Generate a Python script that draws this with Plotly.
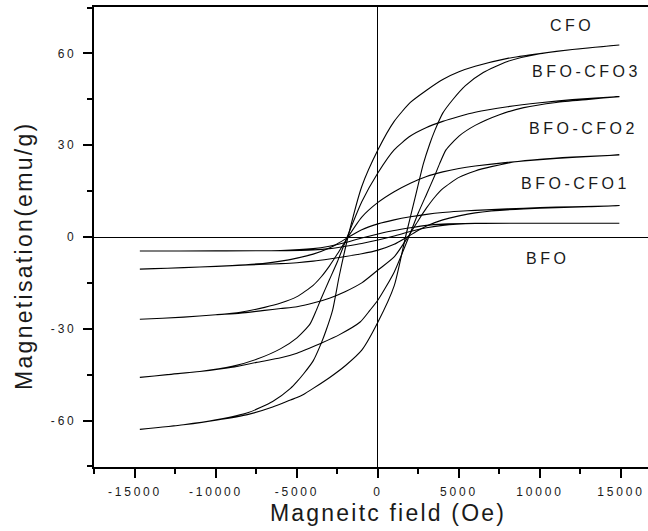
import plotly.graph_objects as go

# ---------------- data ----------------
# CFO
H_cfo_up = [14900, 12000, 10000, 8000, 6000, 5000, 4000, 3000, 2000, 1000, 0, -1000, -1850, -2400,
            -2800, -3200, -3500, -4000, -4600, -5000, -5400, -6500, -8000, -10000, -12000, -14700]
M_cfo_up = [62.8, 61.3, 60.0, 58.4, 55.8, 54.0, 51.5, 48.0, 44.0, 37.8, 28.5, 16.5, 0.0, -13.0,
            -23.9, -30.5, -34.7, -40.5, -44.8, -47.3, -49.5, -53.8, -57.4, -59.8, -61.4, -62.9]
H_cfo_dn = [-14700, -12000, -10000, -8000, -6500, -5400, -5000, -4600, -4000, -3000, -2000, -1000, 0,
            1000, 1700, 2300, 2800, 3200, 3500, 4000, 4600, 5400, 6500, 8000, 10000, 12000, 14900]
M_cfo_dn = [-62.9, -61.4, -59.9, -58.0, -55.6, -53.3, -52.5, -51.5, -49.5, -46.0, -42.0, -37.0, -27.8,
            -16.0, 0.0, 13.0, 23.9, 30.5, 34.7, 40.5, 44.8, 49.5, 53.8, 57.4, 59.9, 61.3, 62.8]

# BFO-CFO3
H_c3_up = [14900, 12000, 10000, 8000, 6000, 5000, 4000, 3000, 2000, 1000, 0, -1000, -1900, -2500,
           -3000, -3500, -3800, -4200, -5000, -6000, -7500, -9000, -11000, -13000, -14700]
M_c3_up = [45.9, 44.9, 43.9, 42.6, 40.8, 39.4, 37.8, 35.8, 33.0, 28.5, 21.0, 11.5, 0.0, -8.0,
           -14.0, -20.0, -23.9, -28.5, -33.0, -36.5, -40.0, -42.3, -44.0, -45.0, -45.9]
H_c3_dn = [-14700, -13000, -11000, -9000, -7500, -6000, -5000, -4200, -3500, -2400, -1100, -500, 0,
           1000, 1900, 2500, 3000, 3500, 3800, 4200, 5000, 6000, 7500, 9000, 11000, 13000, 14900]
M_c3_dn = [-45.9, -45.0, -44.0, -42.6, -41.0, -39.5, -38.0, -36.3, -34.7, -32.0, -27.8, -24.0, -20.6,
           -11.5, 0.0, 8.0, 14.0, 20.0, 23.9, 28.5, 33.0, 36.5, 40.0, 42.3, 44.0, 45.0, 45.9]

# BFO-CFO2
H_c2_up = [14900, 12000, 10000, 8000, 6000, 5000, 4000, 3000, 2000, 1000, 0, -1000, -1850, -2500,
           -3000, -3500, -4000, -5000, -6000, -7000, -8500, -10000, -12000, -14700]
M_c2_up = [26.8, 26.0, 25.3, 24.4, 23.2, 22.4, 21.3, 19.8, 17.6, 14.8, 11.3, 6.5, 0.0, -5.5,
           -9.5, -13.0, -15.8, -19.5, -21.6, -23.0, -24.6, -25.4, -26.2, -26.9]
H_c2_dn = [-14700, -12000, -10000, -8500, -7000, -6000, -5000, -4000, -3000, -2000, -1000, 0, 1000,
           1850, 2500, 3000, 3500, 4000, 5000, 6000, 7000, 8500, 10000, 12000, 14900]
M_c2_dn = [-26.9, -26.2, -25.4, -24.9, -24.0, -23.4, -22.8, -21.6, -20.0, -17.8, -15.0, -10.8, -6.5,
           0.0, 5.5, 9.5, 13.0, 15.8, 19.5, 21.6, 23.0, 24.6, 25.4, 26.1, 26.8]

# BFO-CFO1
H_c1_up = [14900, 12000, 10000, 8000, 6000, 5000, 4000, 3000, 2000, 1000, 0, -1000, -1800, -2500,
           -3000, -4000, -5000, -6000, -7000, -9000, -11000, -13000, -14700]
M_c1_up = [10.2, 9.9, 9.6, 9.2, 8.7, 8.4, 8.0, 7.4, 6.6, 5.6, 4.3, 2.4, 0.0, -2.2,
           -3.6, -5.6, -6.9, -7.9, -8.6, -9.3, -9.8, -10.2, -10.5]
H_c1_dn = [-14700, -13000, -11000, -9000, -7000, -6000, -5000, -4000, -3000, -2000, -1000, 0, 1000,
           1800, 2500, 3000, 4000, 5000, 6000, 7000, 9000, 11000, 13000, 14900]
M_c1_dn = [-10.5, -10.2, -9.8, -9.4, -8.9, -8.7, -8.4, -7.9, -7.2, -6.4, -5.5, -4.3, -2.4,
           0.0, 2.2, 3.6, 5.6, 6.9, 7.9, 8.5, 9.2, 9.6, 9.9, 10.2]

# BFO
H_bfo_up = [14900, 10000, 6000, 4000, 3000, 2000, 1000, 0, -1000, -2000, -3000, -4000, -6000, -10000, -14700]
M_bfo_up = [4.5, 4.5, 4.45, 4.2, 3.8, 3.0, 2.1, 1.0, -0.3, -1.8, -3.0, -3.8, -4.4, -4.55, -4.6]
H_bfo_dn = [-14700, -10000, -6000, -4000, -3000, -2000, -1000, 0, 1000, 2000, 3000, 4000, 6000, 10000, 14900]
M_bfo_dn = [-4.6, -4.55, -4.45, -4.2, -3.8, -3.0, -2.1, -1.0, 0.3, 1.8, 3.0, 3.8, 4.4, 4.5, 4.5]

sample_names = ["CFO", "BFO-CFO3", "BFO-CFO2", "BFO-CFO1", "BFO"]
x_tick_vals = [-15000, -10000, -5000, 0, 5000, 10000, 15000]
x_tick_text = ["-15000", "-10000", "-5000", "0", "5000", "10000", "15000"]
y_tick_vals = [-60, -30, 0, 30, 60]
y_tick_text = ["-60", "-30", "0", "30", "60"]

# ---------------- figure ----------------
def spaced(s, ls):
    return f'<span style="letter-spacing:{ls}px">{s}</span>'

loops = [
    (H_cfo_up + H_cfo_dn, M_cfo_up + M_cfo_dn),
    (H_c3_up + H_c3_dn, M_c3_up + M_c3_dn),
    (H_c2_up + H_c2_dn, M_c2_up + M_c2_dn),
    (H_c1_up + H_c1_dn, M_c1_up + M_c1_dn),
    (H_bfo_up + H_bfo_dn, M_bfo_up + M_bfo_dn),
]

fig = go.Figure()
for name, (hx, my) in zip(sample_names, loops):
    fig.add_trace(go.Scatter(x=hx, y=my, mode="lines", name=name,
                             line=dict(color="black", width=1.1, shape="spline", smoothing=0.6),
                             hoverinfo="skip"))

tickfont = dict(family="Liberation Sans, Arial, sans-serif", size=12, color="#1a1a1a")
fig.update_xaxes(range=[-17530, 16670], tickmode="array", tickvals=x_tick_vals,
                 ticktext=[spaced(t, 2.8) for t in x_tick_text],
                 ticks="outside", ticklen=9, tickwidth=1.5, tickcolor="black",
                 minor=dict(tickmode="linear", tick0=0, dtick=2500, ticks="outside",
                            ticklen=5, tickwidth=1.5, tickcolor="black"),
                 showline=True, linecolor="black", linewidth=2, mirror=True,
                 zeroline=True, zerolinecolor="black", zerolinewidth=1.2,
                 showgrid=False, tickfont=tickfont, ticklabelstandoff=4)
fig.update_yaxes(range=[-75.2, 75.2], tickmode="array", tickvals=y_tick_vals,
                 ticktext=[spaced(t, 2.8) for t in y_tick_text],
                 ticks="outside", ticklen=9, tickwidth=1.5, tickcolor="black",
                 minor=dict(tickmode="linear", tick0=0, dtick=15, ticks="outside",
                            ticklen=5, tickwidth=1.5, tickcolor="black"),
                 showline=True, linecolor="black", linewidth=2, mirror=False,
                 zeroline=True, zerolinecolor="black", zerolinewidth=1.2,
                 showgrid=False, tickfont=tickfont, ticklabelstandoff=4)

# sample labels
label_pos = [(11975, 69.0), (12900, 54.1), (12715, 35.5), (12190, 17.5), (10495, -6.9)]
label_font = dict(family="Liberation Sans, Arial, sans-serif", size=16, color="#1a1a1a")
for name, (lx, ly) in zip(sample_names, label_pos):
    fig.add_annotation(x=lx, y=ly, xref="x", yref="y", text=spaced(name, 3.5),
                       showarrow=False, xanchor="center", yanchor="middle", font=label_font)

title_font = dict(family="Liberation Sans, Arial, sans-serif", size=23, color="#1a1a1a")
fig.add_annotation(x=0.5307, y=-0.1, xref="paper", yref="paper",
                   text=spaced("Magneitc field (Oe)", 2.2), showarrow=False,
                   xanchor="center", yanchor="middle", font=title_font)
fig.add_annotation(x=-0.1264, y=0.4587, xref="paper", yref="paper",
                   text=spaced("Magnetisation(emu/g)", 2.3), showarrow=False, textangle=-90,
                   xanchor="center", yanchor="middle", font=title_font)

fig.update_layout(width=648, height=531, margin=dict(l=94, r=0, t=7, b=64),
                  plot_bgcolor="white", paper_bgcolor="white", showlegend=False,
                  font=dict(family="Liberation Sans, Arial, sans-serif", color="black"))

fig.write_html("out.html")
